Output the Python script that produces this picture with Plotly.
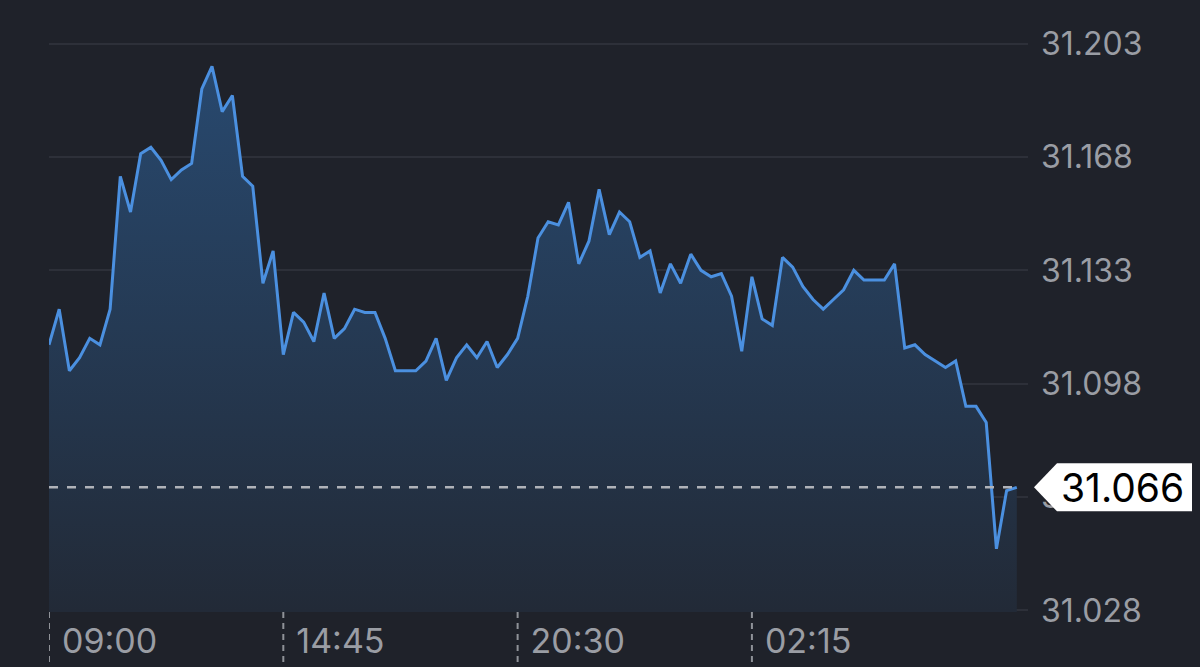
import pandas as pd
import plotly.graph_objects as go

# ---- data -------------------------------------------------------------
START = "2024-01-01 09:00"
N_POINTS = 96
STEP = "15min"
times = pd.date_range(START, periods=N_POINTS, freq=STEP)

prices = [
    31.110, 31.121, 31.102, 31.106, 31.112, 31.110, 31.121, 31.162, 31.151, 31.169,
    31.171, 31.167, 31.161, 31.164, 31.166, 31.189, 31.196, 31.182, 31.187, 31.162,
    31.159, 31.129, 31.139, 31.107, 31.120, 31.117, 31.111, 31.126, 31.112, 31.115,
    31.121, 31.120, 31.120, 31.112, 31.102, 31.102, 31.102, 31.105, 31.112, 31.099,
    31.106, 31.110, 31.106, 31.111, 31.103, 31.107, 31.112, 31.125, 31.143, 31.148,
    31.147, 31.154, 31.135, 31.142, 31.158, 31.144, 31.151, 31.148, 31.137, 31.139,
    31.126, 31.135, 31.129, 31.138, 31.133, 31.131, 31.132, 31.125, 31.108, 31.131,
    31.118, 31.116, 31.137, 31.134, 31.128, 31.124, 31.121, 31.124, 31.127, 31.133,
    31.130, 31.130, 31.130, 31.135, 31.109, 31.110, 31.107, 31.105, 31.103, 31.105,
    31.091, 31.091, 31.086, 31.047, 31.065, 31.066,
]

y_ticks = [31.028, 31.063, 31.098, 31.133, 31.168, 31.203]
y_tick_labels = ["31.028", "31.063", "31.098", "31.133", "31.168", "31.203"]
x_ticks = ["2024-01-01 09:00", "2024-01-01 14:45", "2024-01-01 20:30", "2024-01-02 02:15"]
x_tick_labels = ["09:00", "14:45", "20:30", "02:15"]
last_price = prices[-1]
last_label = "31.066"

# ---- styling ----------------------------------------------------------
BG = "#1f222a"
GRID = "#2d3039"
LINE = "#4b90e0"
TICK_GREY = "#9a9da4"
Y_LO, Y_HI = 31.0275, 31.2035
X_RANGE = ["2024-01-01 09:00", "2024-01-02 09:01:30"]

fig = go.Figure()
fig.add_trace(go.Scatter(
    x=times, y=prices, mode="lines",
    line=dict(color=LINE, width=3),
    fill="tozeroy",
    fillgradient=dict(type="vertical",
                      colorscale=[[0, "#222a37"], [1, "#284a71"]],
                      start=Y_LO, stop=Y_HI),
    hoverinfo="skip", showlegend=False,
))

shapes = []
# current-price dashed line
shapes.append(dict(type="line", xref="x", yref="y",
                   x0=times[0], x1=times[-1], y0=last_price, y1=last_price,
                   line=dict(color="#b0b3b9", width=2.5, dash="9px,9px"),
                   layer="above"))
# dashed tick lines below plot area
for t in x_ticks:
    shapes.append(dict(type="line", xref="x", yref="paper",
                       x0=t, x1=t, y0=0, y1=-0.11,
                       line=dict(color="#8f9298", width=2, dash="6px,5px"),
                       layer="above"))
# price label box with arrow
anchor_y = (last_price - Y_LO) / (Y_HI - Y_LO)
shapes.append(dict(type="path", xref="paper", yref="paper",
                   xsizemode="pixel", ysizemode="pixel",
                   xanchor=1, yanchor=anchor_y,
                   path="M6,0 L29,24 L164,24 L164,-24 L29,-24 Z",
                   fillcolor="#ffffff", line=dict(width=0), layer="above"))

fig.update_layout(
    width=1200, height=667,
    margin=dict(l=49, r=172, t=42, b=55, autoexpand=False),
    paper_bgcolor=BG, plot_bgcolor=BG,
    shapes=shapes,
    showlegend=False,
    hovermode=False,
    annotations=[dict(xref="paper", yref="paper", x=1.0317, y=anchor_y,
                      xanchor="left", yanchor="middle", showarrow=False,
                      text=last_label,
                      font=dict(family="Inter", size=39, color="#000000"))],
    xaxis=dict(type="date", range=X_RANGE, showgrid=False, zeroline=False,
               showline=False, ticks="", automargin=False,
               tickvals=x_ticks, ticktext=x_tick_labels,
               ticklabelposition="outside right", ticklabelshift=13,
               ticklabelstandoff=6,
               tickfont=dict(family="Inter", size=34, color=TICK_GREY)),
    yaxis=dict(range=[Y_LO, Y_HI], side="right", showgrid=True,
               gridcolor=GRID, gridwidth=2, zeroline=False, showline=False,
               ticks="", automargin=False,
               tickvals=y_ticks, ticktext=y_tick_labels,
               ticklabelstandoff=12,
               tickfont=dict(family="Inter", size=32, color=TICK_GREY)),
)

fig.write_html("out.html", config={"displayModeBar": False},
               post_script="document.body.style.margin='0';document.body.style.overflow='hidden';")
